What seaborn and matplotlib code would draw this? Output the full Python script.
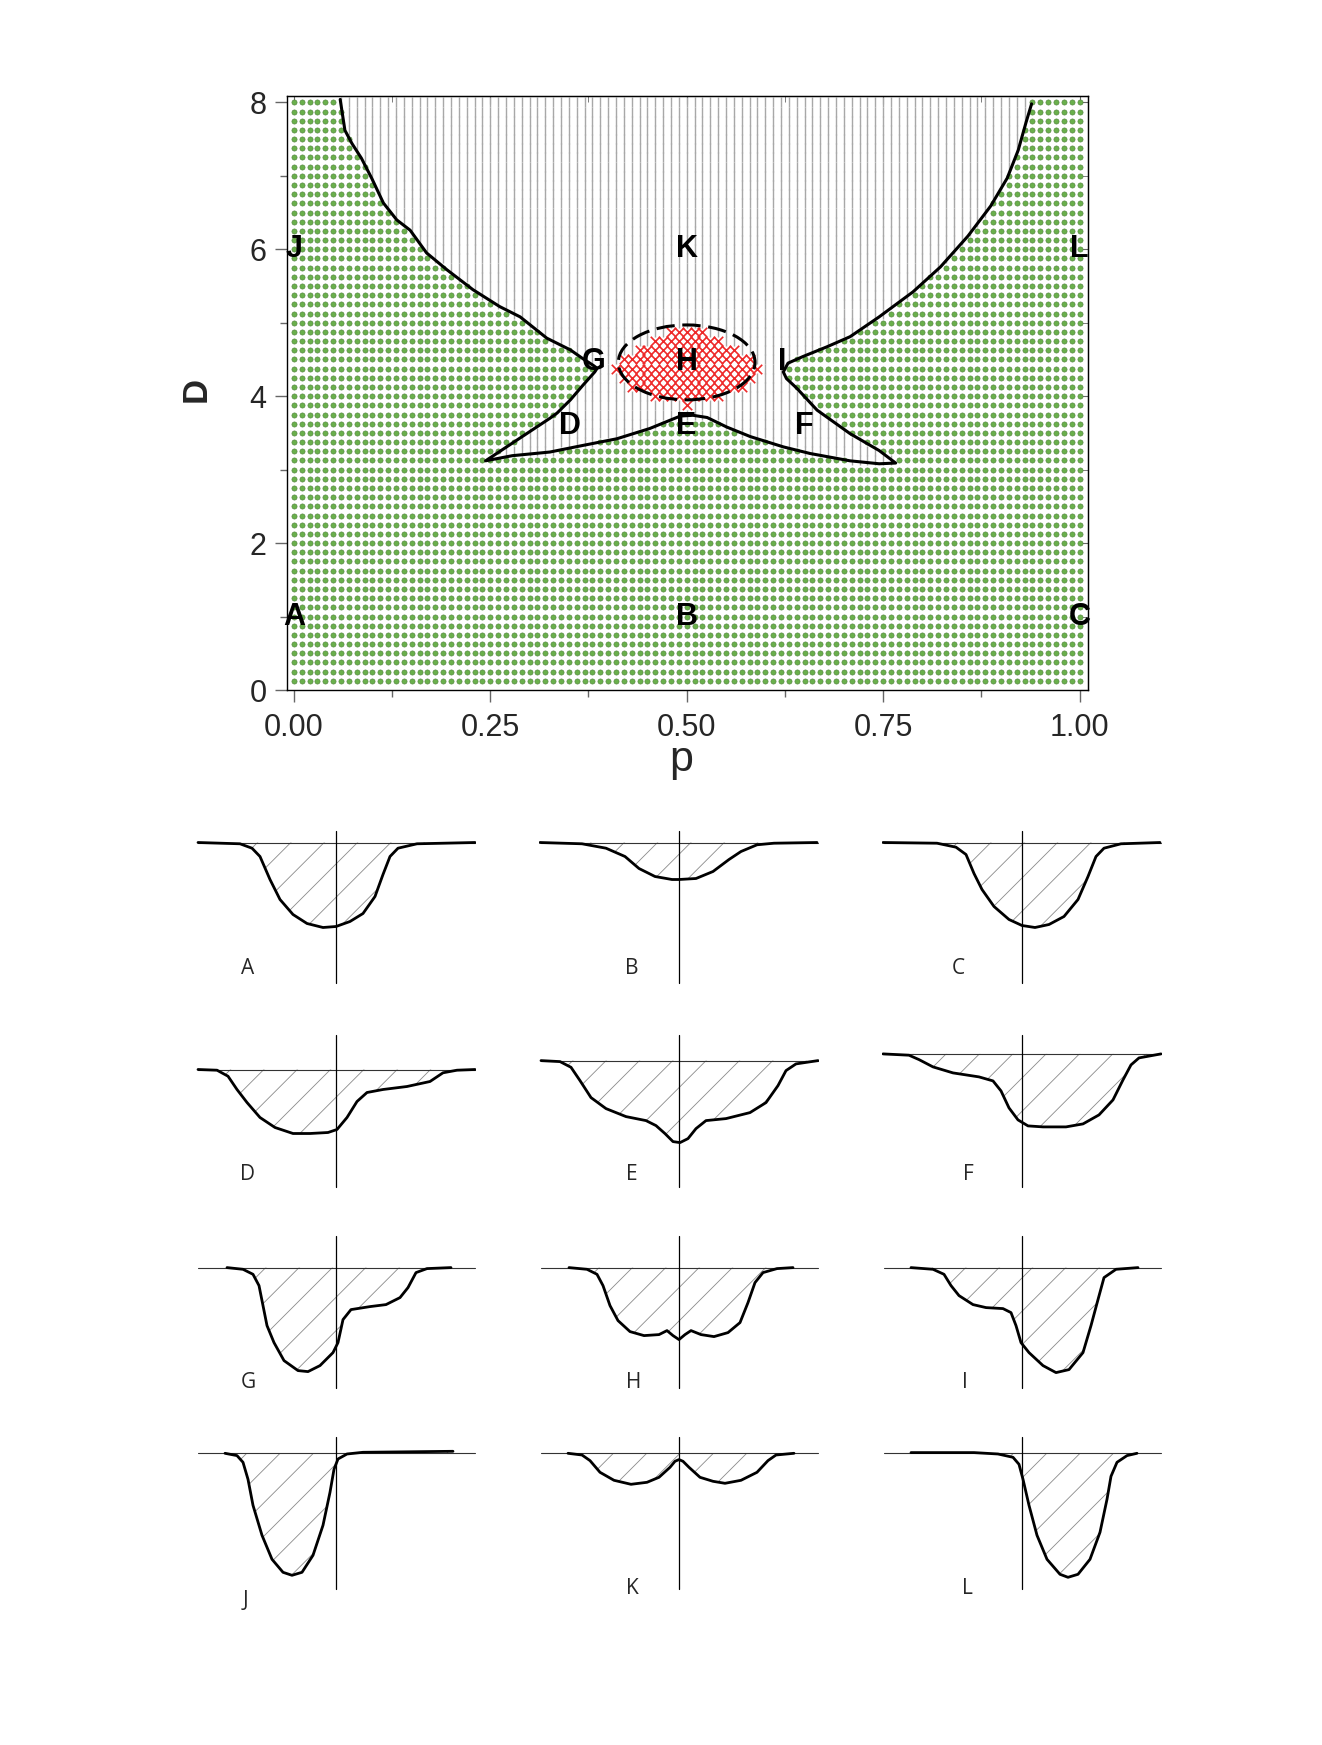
import numpy as np
import pandas as pd
import matplotlib
matplotlib.use('Agg')
import matplotlib.pyplot as plt
from matplotlib.path import Path
from matplotlib.patches import Ellipse
from matplotlib.ticker import MultipleLocator, FormatStrFormatter
import seaborn as sns

# ---- phase diagram data -------------------------------------------------
# sample lattice in (p, D)
p_grid = np.round(np.arange(0, 101) * 0.01, 2)
D_grid = np.round(np.arange(1, 65) * 0.125, 3)

# black boundary, as one polyline (top-left -> top-right)
seg1_p = [0.059, 0.065, 0.074, 0.086, 0.099, 0.114, 0.131, 0.148, 0.169, 0.195, 0.228, 0.262, 0.288, 0.322, 0.352, 0.368, 0.381, 0.386]
seg1_D = [8.04, 7.62, 7.44, 7.24, 6.97, 6.63, 6.40, 6.26, 5.95, 5.72, 5.45, 5.22, 5.08, 4.79, 4.63, 4.51, 4.42, 4.38]
seg2_p = [0.383, 0.368, 0.352, 0.335, 0.326, 0.285, 0.244]
seg2_D = [4.33, 4.15, 3.95, 3.77, 3.70, 3.41, 3.12]
seg3_p = [0.278, 0.326, 0.368, 0.411, 0.453, 0.492, 0.508, 0.526, 0.551, 0.581, 0.623, 0.657, 0.708, 0.745, 0.766]
seg3_D = [3.19, 3.24, 3.33, 3.42, 3.56, 3.73, 3.74, 3.71, 3.58, 3.45, 3.31, 3.22, 3.12, 3.08, 3.09]
seg4_p = [0.745, 0.708, 0.666, 0.640, 0.627, 0.623]
seg4_D = [3.26, 3.49, 3.81, 4.11, 4.24, 4.33]
seg5_p = [0.629, 0.648, 0.678, 0.708, 0.745, 0.788, 0.823, 0.858, 0.887, 0.908, 0.922, 0.932, 0.939]
seg5_D = [4.45, 4.54, 4.67, 4.81, 5.08, 5.42, 5.76, 6.18, 6.59, 6.97, 7.35, 7.73, 7.98]

# red (H) region: rows and half widths around p = 0.5
h_rows = [3.875, 4.0, 4.125, 4.25, 4.375, 4.5, 4.625, 4.75, 4.875]
h_halfwidth = [0.0, 0.04, 0.07, 0.085, 0.09, 0.085, 0.068, 0.047, 0.025]
h_center, h_width, h_height = (0.5, 4.46), 0.174, 1.02

region_labels = ['J', 'K', 'L', 'G', 'H', 'I', 'D', 'E', 'F', 'A', 'B', 'C']
region_label_p = [0.0, 0.5, 1.0, 0.381, 0.5, 0.622, 0.351, 0.5, 0.65, 0.0, 0.5, 1.0]
region_label_D = [6.0, 6.0, 6.0, 4.47, 4.47, 4.47, 3.6, 3.6, 3.6, 1.0, 1.0, 1.0]

# ---- profile panels (x offset, depth) -----------------------------------
A_x = [-138, -96, -84, -76, -66, -56, -43, -29, -13, 0, 14, 27, 39, 47, 54, 62, 81, 139]
A_d = [0, 1.3, 5.7, 14, 37, 57, 72, 81, 85, 84, 79, 71, 54, 32, 14, 5.7, 1.3, 0]
B_x = [-139, -97, -73, -54, -40, -24, -7, 0, 17, 34, 50, 62, 78, 95, 138]
B_d = [0, 1.3, 5.7, 14, 26, 34, 37, 37, 36, 29, 17, 9, 2.3, 0.7, 0]
C_x = [-139, -85, -66, -56, -48, -40, -28, -13, 0, 13, 27, 42, 56, 66, 74, 82, 99, 138]
C_d = [0, 0.7, 4.7, 12, 31, 47, 64, 77, 83, 85, 82, 74, 57, 34, 14, 5.7, 1.3, 0]
D_x = [-138, -119, -108, -99, -89, -76, -61, -43, -26, -8, 1, 11, 21, 31, 47, 71, 94, 107, 121, 139]
D_d = [0, 0.7, 6.7, 20, 33, 48, 58, 64, 64, 63, 60, 48, 32, 23, 20, 17, 12, 3.3, 0.7, 0]
E_x = [-138, -119, -108, -99, -88, -73, -53, -33, -23, -14, -6, 1, 9, 17, 27, 47, 71, 87, 99, 107, 117, 139]
E_d = [0, 1, 6.7, 20, 37, 48, 56, 60, 65, 73, 81, 82, 78, 68, 60, 58, 52, 42, 25, 10, 3.3, 0]
F_x = [-139, -113, -103, -89, -69, -43, -29, -21, -13, -4, 6, 21, 44, 61, 77, 91, 101, 109, 117, 139]
F_d = [0, 1.3, 5.7, 13, 19, 23, 27, 37, 54, 66, 72, 73, 73, 70, 61, 46, 26, 11, 4, 0]
G_x = [-109, -93, -83, -77, -73, -69, -62, -52, -38, -28, -16, -3, 2, 7, 15, 34, 50, 64, 72, 80, 91, 115]
G_d = [0, 1.7, 6.7, 18, 38, 58, 75, 93, 103, 104, 98, 85, 75, 52, 42, 39, 37, 30, 20, 5, 1, 0]
H_x = [-110, -92, -82, -76, -69, -61, -49, -35, -20, -12, -6, 0, 6, 12, 22, 35, 49, 61, 69, 76, 84, 98, 114]
H_d = [0, 1.7, 6.7, 18, 38, 53, 64, 68, 67, 63, 68, 72, 67, 63, 67, 69, 65, 55, 35, 15, 5, 1, 0]
I_x = [-111, -89, -78, -71, -63, -49, -36, -19, -11, -6, -1, 7, 21, 34, 47, 61, 69, 76, 82, 94, 116]
I_d = [0, 1.7, 6.7, 18, 28, 37, 40, 41, 45, 58, 75, 85, 98, 105, 102, 85, 58, 32, 10, 1.7, 0]
J_x = [-111, -99, -93, -88, -83, -74, -64, -53, -44, -34, -23, -13, -6, -2, 2, 11, 27, 117]
J_d = [0, 2.3, 9, 26, 52, 82, 106, 119, 122, 119, 102, 72, 39, 16, 5.7, 0.7, -1, -2]
K_x = [-111, -97, -89, -79, -65, -48, -32, -20, -9, -4, 0, 4, 10, 21, 34, 46, 62, 78, 89, 97, 115]
K_d = [0, 1.7, 7.3, 19, 27, 31, 29, 24, 14, 8, 6.3, 8, 14, 24, 28, 30, 27, 19, 7.3, 1.7, 0]
L_x = [-111, -48, -24, -9, -3, 1, 7, 15, 25, 38, 46, 56, 68, 78, 85, 89, 95, 105, 115]
L_d = [-0.7, -0.7, 0.7, 4, 11, 26, 52, 82, 106, 121, 124, 121, 106, 79, 46, 23, 9, 2.3, 0]

profiles = [('A', A_x, A_d), ('B', B_x, B_d), ('C', C_x, C_d),
            ('D', D_x, D_d), ('E', E_x, E_d), ('F', F_x, F_d),
            ('G', G_x, G_d), ('H', H_x, H_d), ('I', I_x, I_d),
            ('J', J_x, J_d), ('K', K_x, K_d), ('L', L_x, L_d)]

# panel layout (pixels of the 1322x1745 figure)
col_x = [336, 679, 1022]
row_top = [831, 1035, 1236, 1437]
base_drop = [11.5, 11.5, 11.5, 34.5, 25.6, 18.9, 31.6, 31.6, 31.6, 16.3, 16.3, 16.3]
label_dx = [-88, -47, -64, -88, -47, -54, -88, -45, -57, -91, -47, -55]
label_dy = [137, 137, 137, 139, 139, 139, 147, 147, 147, 163, 152, 152]

# ---- figure --------------------------------------------------------------
sns.set_style('white')
plt.rcParams['font.family'] = ['Liberation Sans', 'DejaVu Sans']
plt.rcParams['hatch.linewidth'] = 0.6

W, H = 1322, 1745
fig = plt.figure(figsize=(W / 100, H / 100), dpi=100)
ax = fig.add_axes([287 / W, 1 - 690 / H, (1088 - 287) / W, (690 - 96) / H])

P, DD = np.meshgrid(p_grid, D_grid)
pts = np.column_stack([P.ravel(), DD.ravel()])
bp = np.concatenate([seg1_p, seg2_p, seg3_p, seg4_p, seg5_p])
bD = np.concatenate([seg1_D, seg2_D, seg3_D, seg4_D, seg5_D])
poly = Path(np.column_stack([np.r_[bp, bp[-1], bp[0]], np.r_[bD, 8.6, 8.6]]))
inside = poly.contains_points(pts)
hw = dict(zip(h_rows, h_halfwidth))
in_h = np.array([abs(p - 0.5) <= hw.get(d, -1.0) + 1e-9 for p, d in pts])

df = pd.DataFrame({'p': pts[:, 0], 'D': pts[:, 1]})
df['region'] = np.where(in_h, 'H', np.where(inside, 'K', 'green'))

sns.scatterplot(data=df[df.region == 'K'], x='p', y='D', marker='|', s=7.2 ** 2,
                color='#a8a8a8', linewidth=1.0, ax=ax, zorder=1, legend=False)
sns.scatterplot(data=df[df.region == 'green'], x='p', y='D', marker='o', s=14,
                color='#6ab04c', edgecolor='#4f7f3c', linewidth=0.4, ax=ax, zorder=2, legend=False)
sns.scatterplot(data=df[df.region == 'H'], x='p', y='D', marker='x', s=6.8 ** 2,
                color='#ee2a2a', linewidth=1.2, ax=ax, zorder=3, legend=False)

sns.lineplot(x=bp, y=bD, sort=False, estimator=None, color='black', lw=2.2, ax=ax, zorder=4)
ax.add_patch(Ellipse(h_center, h_width, h_height, fill=False, ec='black', lw=2.2,
                     ls=(0, (6, 2.5)), zorder=5))

for lab, lp, lD in zip(region_labels, region_label_p, region_label_D):
    ax.text(lp, lD, lab, ha='center', va='center', fontsize=22, fontweight='bold',
            color='black', zorder=6)

ax.set_xlim(-0.0087, 1.0108)
ax.set_ylim(0, 8.087)
ax.xaxis.set_major_locator(MultipleLocator(0.25))
ax.xaxis.set_minor_locator(MultipleLocator(0.125))
ax.xaxis.set_major_formatter(FormatStrFormatter('%.2f'))
ax.yaxis.set_major_locator(MultipleLocator(2))
ax.yaxis.set_minor_locator(MultipleLocator(1))
ax.tick_params(which='both', direction='out', color='#666666', width=1, labelsize=22,
               bottom=True, left=True)
ax.tick_params(which='major', length=8.6)
ax.tick_params(which='minor', length=5)
ax.tick_params(axis='x', pad=8)
ax.tick_params(axis='y', pad=6)
for side in ['top', 'right']:
    sec = ax.secondary_xaxis('top') if side == 'top' else ax.secondary_yaxis('right')
    axis = sec.xaxis if side == 'top' else sec.yaxis
    axis.set_major_locator(MultipleLocator(0.25 if side == 'top' else 2))
    axis.set_minor_locator(MultipleLocator(0.125 if side == 'top' else 1))
    sec.tick_params(which='both', direction='in', color='#666666', labeltop=False, labelright=False)
    sec.tick_params(which='major', length=6)
    sec.tick_params(which='minor', length=4)
for s in ax.spines.values():
    s.set_color('black')
    s.set_linewidth(1.0)
ax.set_xlabel('')
ax.set_ylabel('')
ax.text(-0.1136, 0.506, 'D', transform=ax.transAxes, rotation=90, ha='center', va='center',
        fontsize=25, fontweight='bold')
ax.text(0.492, -0.137, 'p', transform=ax.transAxes, ha='center', va='baseline', fontsize=31)

# ---- profile panels ------------------------------------------------------
for i, (lab, xs, ds) in enumerate(profiles):
    vx = col_x[i % 3]
    top = row_top[i // 3]
    drop = base_drop[i]
    pax = fig.add_axes([(vx - 140) / W, 1 - (top + 175) / H, 280 / W, 185 / H])
    xs = np.asarray(xs, dtype=float)
    ys = -np.asarray(ds, dtype=float)
    pax.fill_between(xs, 0, ys, facecolor='none', edgecolor='#8a8a8a', linewidth=0, hatch='/')
    pax.plot([-138, 139], [0, 0], color='#333333', lw=0.8)
    pax.plot([0, 0], [drop, -(152 - drop)], color='black', lw=0.9)
    sns.lineplot(x=xs, y=ys, sort=False, estimator=None, color='black', lw=2.0, ax=pax)
    pax.text(label_dx[i], -(label_dy[i] - drop), lab, ha='center', va='center', fontsize=15,
             family=['Open Sans', 'DejaVu Sans'])
    pax.set_xlim(-140, 140)
    pax.set_ylim(-(175 - drop), drop + 10)
    pax.axis('off')

fig.savefig('out.png', dpi=100)
